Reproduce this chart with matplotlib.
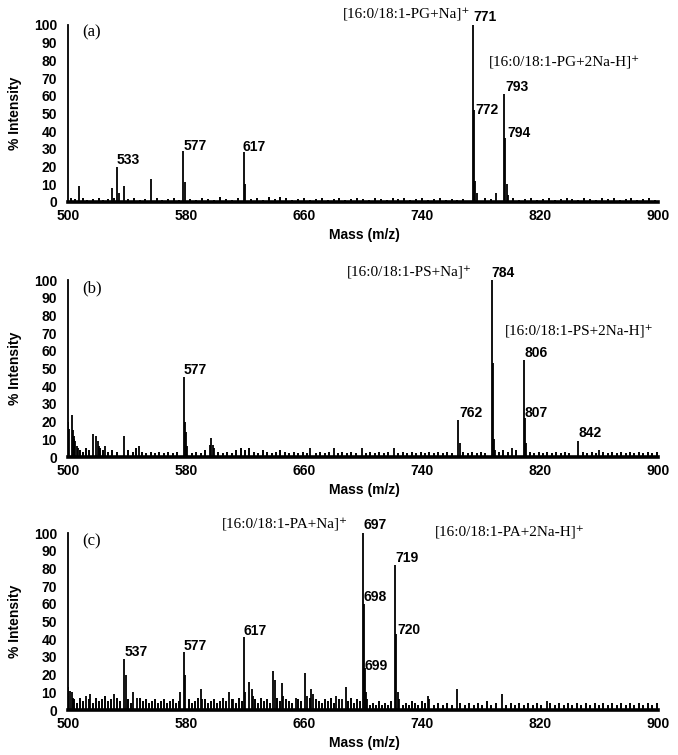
import matplotlib
matplotlib.use("Agg")
import matplotlib.pyplot as plt

# ---------------- data ----------------
# Panel (a): PG
peaks_a_mz = [507.5, 529.5, 533.5, 534.5, 538, 556, 578.3, 579.0, 619.0, 619.8,
              774.3, 775.2, 776.0, 777.0, 790, 795.8, 796.5, 797.3, 798.3]
peaks_a_int = [9, 8, 20, 5, 9, 13, 29, 11, 28, 10,
               100, 52, 12, 5, 5, 61, 36, 10, 4]
noise_a_mz = [502, 505, 510, 513, 517, 521, 524, 527, 531, 541, 545, 549, 552, 560, 564, 568,
              572, 575, 583, 587, 591, 595, 599, 603, 607, 611, 615, 624, 628, 632, 636, 640,
              644, 648, 652, 656, 660, 664, 668, 672, 676, 680, 684, 688, 692, 696, 700, 704,
              708, 712, 716, 720, 724, 728, 732, 736, 740, 744, 748, 752, 756, 760, 764, 768,
              783, 787, 802, 806, 810, 814, 818, 822, 826, 830, 834, 838, 842, 846, 850, 854,
              858, 862, 866, 870, 874, 878, 882, 886, 890, 894, 898]
noise_a_int = [2, 1.5, 2, 1, 1.5, 2, 1, 1.5, 2, 1.5, 2, 1, 1.5, 2, 1, 1.5,
               2, 1, 1.5, 1, 2, 1.5, 1, 3, 1.5, 1, 2, 1.5, 2, 1, 3, 1.5,
               3, 2, 1, 1.5, 2, 1, 1.5, 2.5, 1, 1.5, 2, 1, 1.5, 2, 1.5, 1,
               2, 1.5, 1, 2, 1.5, 2, 1, 1.5, 2, 1, 1.5, 2, 1, 1.5, 1, 1.5,
               2, 1.5, 2, 1, 1.5, 2, 1, 1.5, 2, 1, 1.5, 2, 1.5, 1, 2, 1.5,
               1, 2, 1.5, 2.5, 1, 1.5, 2, 1, 1.5, 2, 1]

# Panel (b): PS
peaks_b_mz = [500.3, 501.0, 502.5, 503.2, 504.0, 505.0, 506.0, 507.0, 516.7, 518.8, 520.0,
              521.0, 525, 538, 548, 578.4, 579.0, 580.0, 581.0, 596, 597, 598, 599, 664, 680,
              699, 721, 764.6, 765.5, 787.2, 787.8, 788.5, 789.5, 801, 809.4, 810.0, 810.8,
              845.8, 860]
peaks_b_int = [20, 16, 24, 15, 12, 9, 6, 5, 13, 12, 9,
               6, 6, 12, 6, 45, 20, 14, 6, 7, 11, 7, 5, 5, 5,
               5, 5, 21, 8, 100, 53, 10, 4, 5, 55, 22, 8,
               9, 4]
noise_b_mz = [500, 504, 508, 510, 512, 514, 522, 524, 527, 530, 533, 541, 544, 546, 550, 553,
              556, 559, 562, 565, 568, 571, 574, 584, 587, 590, 593, 602, 605, 608, 611, 614,
              617, 620, 623, 626, 629, 632, 635, 638, 641, 644, 647, 650, 653, 656, 659, 662,
              668, 671, 674, 677, 683, 686, 689, 692, 695, 702, 705, 708, 711, 714, 717, 724,
              727, 730, 733, 736, 739, 742, 745, 748, 751, 754, 757, 760, 768, 771, 774, 777,
              780, 783, 792, 795, 798, 804, 813, 816, 819, 822, 825, 828, 831, 834, 837, 840,
              849, 852, 855, 858, 863, 866, 869, 872, 875, 878, 881, 884, 887, 890, 893, 896,
              899]
noise_b_int = [12, 10, 4, 3, 5, 4, 5, 4, 3, 4, 3, 4, 3, 5, 3, 2,
               3, 2, 3, 2, 3, 2, 3, 2, 3, 2, 4, 3, 2, 3, 2, 4,
               5, 4, 5, 3, 2, 4, 3, 2, 3, 4, 3, 2, 3, 2, 3, 2,
               2, 3, 2, 3, 2, 3, 2, 3, 2, 2, 3, 2, 3, 2, 3, 2,
               3, 2, 3, 2, 3, 2, 3, 2, 3, 2, 3, 2, 3, 2, 3, 2,
               3, 2, 3, 4, 3, 4, 3, 2, 3, 2, 3, 2, 3, 2, 3, 2,
               3, 2, 3, 2, 3, 2, 3, 2, 3, 2, 3, 2, 3, 2, 3, 2,
               3]

# Panel (c): PA
peaks_c_mz = [500.3, 501.5, 502.5, 503.5, 512, 515, 531, 538.2, 539.0, 544, 547, 576, 578.9,
              579.6, 590, 591, 609, 612, 619.3, 620.2, 623, 624.5, 625.5, 638.8, 640, 645, 646,
              654.6, 661, 662, 665, 666, 682, 686, 688.5, 699.8, 700.5, 701.2, 702, 703, 722.0,
              722.6, 723.4, 724.5, 744, 745, 763.5, 794, 824.7]
peaks_c_int = [13, 11, 10, 7, 8, 9, 9, 29, 20, 10, 7, 10, 33,
               20, 12, 6, 10, 6, 41, 10, 16, 12, 8, 22, 17, 15, 8,
               7, 21, 8, 12, 9, 8, 6, 13, 100, 60, 24, 10, 6, 82,
               43, 10, 6, 8, 6, 12, 9, 5]
noise_c_mz = [500, 504, 506, 508, 510, 514, 517, 519, 521, 523, 525, 527, 529, 533, 535, 541,
              543, 549, 551, 553, 555, 557, 559, 561, 563, 565, 567, 569, 571, 573, 575, 582,
              584, 586, 588, 593, 595, 597, 599, 601, 603, 605, 607, 611, 614, 616, 618, 627,
              629, 631, 633, 635, 637, 642, 644, 648, 650, 652, 656, 658, 664, 668, 670, 672,
              674, 676, 678, 680, 684, 690, 692, 694, 696, 698, 705, 707, 709, 711, 713, 715,
              717, 719, 727, 729, 731, 733, 735, 737, 740, 742, 748, 751, 754, 757, 760, 766,
              769, 772, 775, 778, 781, 784, 787, 790, 797, 800, 803, 806, 809, 812, 815, 818,
              821, 827, 830, 833, 836, 839, 842, 845, 848, 851, 854, 857, 860, 863, 866, 869,
              872, 875, 878, 881, 884, 887, 890, 893, 896, 899]
noise_c_int = [8, 6, 4, 7, 5, 6, 4, 7, 5, 6, 8, 5, 6, 7, 5, 6,
               4, 7, 5, 6, 4, 5, 6, 4, 5, 6, 4, 5, 6, 4, 5, 6,
               4, 5, 7, 6, 4, 5, 6, 4, 5, 7, 5, 6, 4, 7, 5, 6,
               4, 7, 5, 6, 4, 7, 5, 6, 5, 4, 6, 5, 7, 6, 5, 4,
               6, 5, 7, 4, 6, 5, 7, 4, 6, 5, 3, 4, 3, 5, 3, 4,
               3, 5, 3, 4, 3, 5, 4, 3, 5, 4, 3, 4, 3, 4, 3, 4,
               3, 4, 3, 4, 3, 5, 3, 4, 3, 4, 3, 4, 3, 4, 3, 4,
               3, 4, 3, 4, 3, 4, 3, 4, 3, 4, 3, 4, 3, 4, 3, 4,
               3, 4, 3, 4, 3, 4, 3, 4, 3, 4]

x_ticks = [500, 580, 660, 740, 820, 900]
y_ticks = [0, 10, 20, 30, 40, 50, 60, 70, 80, 90, 100]

panel_labels = ["(a)", "(b)", "(c)"]

# annotations: (text, x, y, ha, kind)  kind: 'num' bold sans, 'ion' serif
annot_a = [("[16:0/18:1-PG+Na]\u207a", 772.5, 105.6, "right", "ion"),
           ("771", 774.6, 104.5, "left", "num"),
           ("[16:0/18:1-PG+2Na-H]\u207a", 785.4, 78.5, "left", "ion"),
           ("793", 796.3, 65, "left", "num"),
           ("772", 776.0, 52, "left", "num"),
           ("794", 797.6, 39, "left", "num"),
           ("533", 533.2, 23.7, "left", "num"),
           ("577", 578.6, 31.6, "left", "num"),
           ("617", 618.6, 31.1, "left", "num")]
annot_b = [("[16:0/18:1-PS+Na]\u207a", 773.9, 104.0, "right", "ion"),
           ("784", 786.8, 104.0, "left", "num"),
           ("[16:0/18:1-PS+2Na-H]\u207a", 796.3, 70.6, "left", "ion"),
           ("806", 809.8, 58.8, "left", "num"),
           ("762", 765.1, 24.9, "left", "num"),
           ("807", 809.8, 24.9, "left", "num"),
           ("842", 845.8, 13.6, "left", "num"),
           ("577", 578.6, 49.2, "left", "num")]
annot_c = [("[16:0/18:1-PA+Na]\u207a", 689.8, 104.5, "right", "ion"),
           ("697", 700.0, 104.5, "left", "num"),
           ("[16:0/18:1-PA+2Na-H]\u207a", 748.8, 100.0, "left", "ion"),
           ("719", 721.7, 85.9, "left", "num"),
           ("698", 700.0, 63.8, "left", "num"),
           ("720", 723.0, 45.2, "left", "num"),
           ("699", 700.7, 24.9, "left", "num"),
           ("537", 538.6, 32.8, "left", "num"),
           ("577", 578.6, 36.2, "left", "num"),
           ("617", 619.3, 44.6, "left", "num")]

panels = [
    (peaks_a_mz, peaks_a_int, noise_a_mz, noise_a_int, annot_a, [0.1003, 0.7325, 0.8702, 0.2344]),
    (peaks_b_mz, peaks_b_int, noise_b_mz, noise_b_int, annot_b, [0.1003, 0.3947, 0.8702, 0.2344]),
    (peaks_c_mz, peaks_c_int, noise_c_mz, noise_c_int, annot_c, [0.1003, 0.0596, 0.8702, 0.2344]),
]

SANS = "Liberation Sans"
SERIF = ["Liberation Serif", "DejaVu Serif"]

fig = plt.figure(figsize=(6.78, 7.55), dpi=100)
for i, (pmz, pint, nmz, nint, annots, rect) in enumerate(panels):
    ax = fig.add_axes(rect)
    ax.vlines(nmz, 0, nint, colors="black", linewidth=1.4)
    ax.vlines(pmz, 0, pint, colors="black", linewidth=1.3)
    ax.set_xlim(500, 900)
    ax.set_ylim(0, 100)
    ax.spines["top"].set_visible(False)
    ax.spines["right"].set_visible(False)
    ax.spines["left"].set_linewidth(1.3)
    ax.spines["bottom"].set_linewidth(2.6)
    ax.set_xticks(x_ticks)
    ax.set_yticks(y_ticks)
    ax.tick_params(length=0)
    ax.tick_params(axis="y", pad=8)
    ax.tick_params(axis="x", pad=5)
    for lab in ax.get_xticklabels() + ax.get_yticklabels():
        lab.set_fontfamily(SANS)
        lab.set_fontweight("bold")
        lab.set_fontsize(10)
    ax.set_xlabel("Mass (m/z)", fontfamily=SANS, fontweight="bold", fontsize=10)
    ax.xaxis.set_label_coords(0.502, -0.147)
    ax.set_ylabel("% Intensity", fontfamily=SANS, fontweight="bold", fontsize=10)
    ax.yaxis.set_label_coords(-0.078, 0.5)
    ax.text(509.5, 96 if i == 0 else 95, panel_labels[i], fontfamily=SERIF, fontsize=12,
            ha="left", va="center")
    for txt, x, y, ha, kind in annots:
        if kind == "num":
            ax.text(x, y, txt, fontfamily=SANS, fontweight="bold", fontsize=10,
                    ha=ha, va="center", clip_on=False)
        else:
            ax.text(x, y, txt, fontfamily=SERIF, fontsize=11,
                    ha=ha, va="center", clip_on=False)

fig.savefig("out.png", dpi=100)
